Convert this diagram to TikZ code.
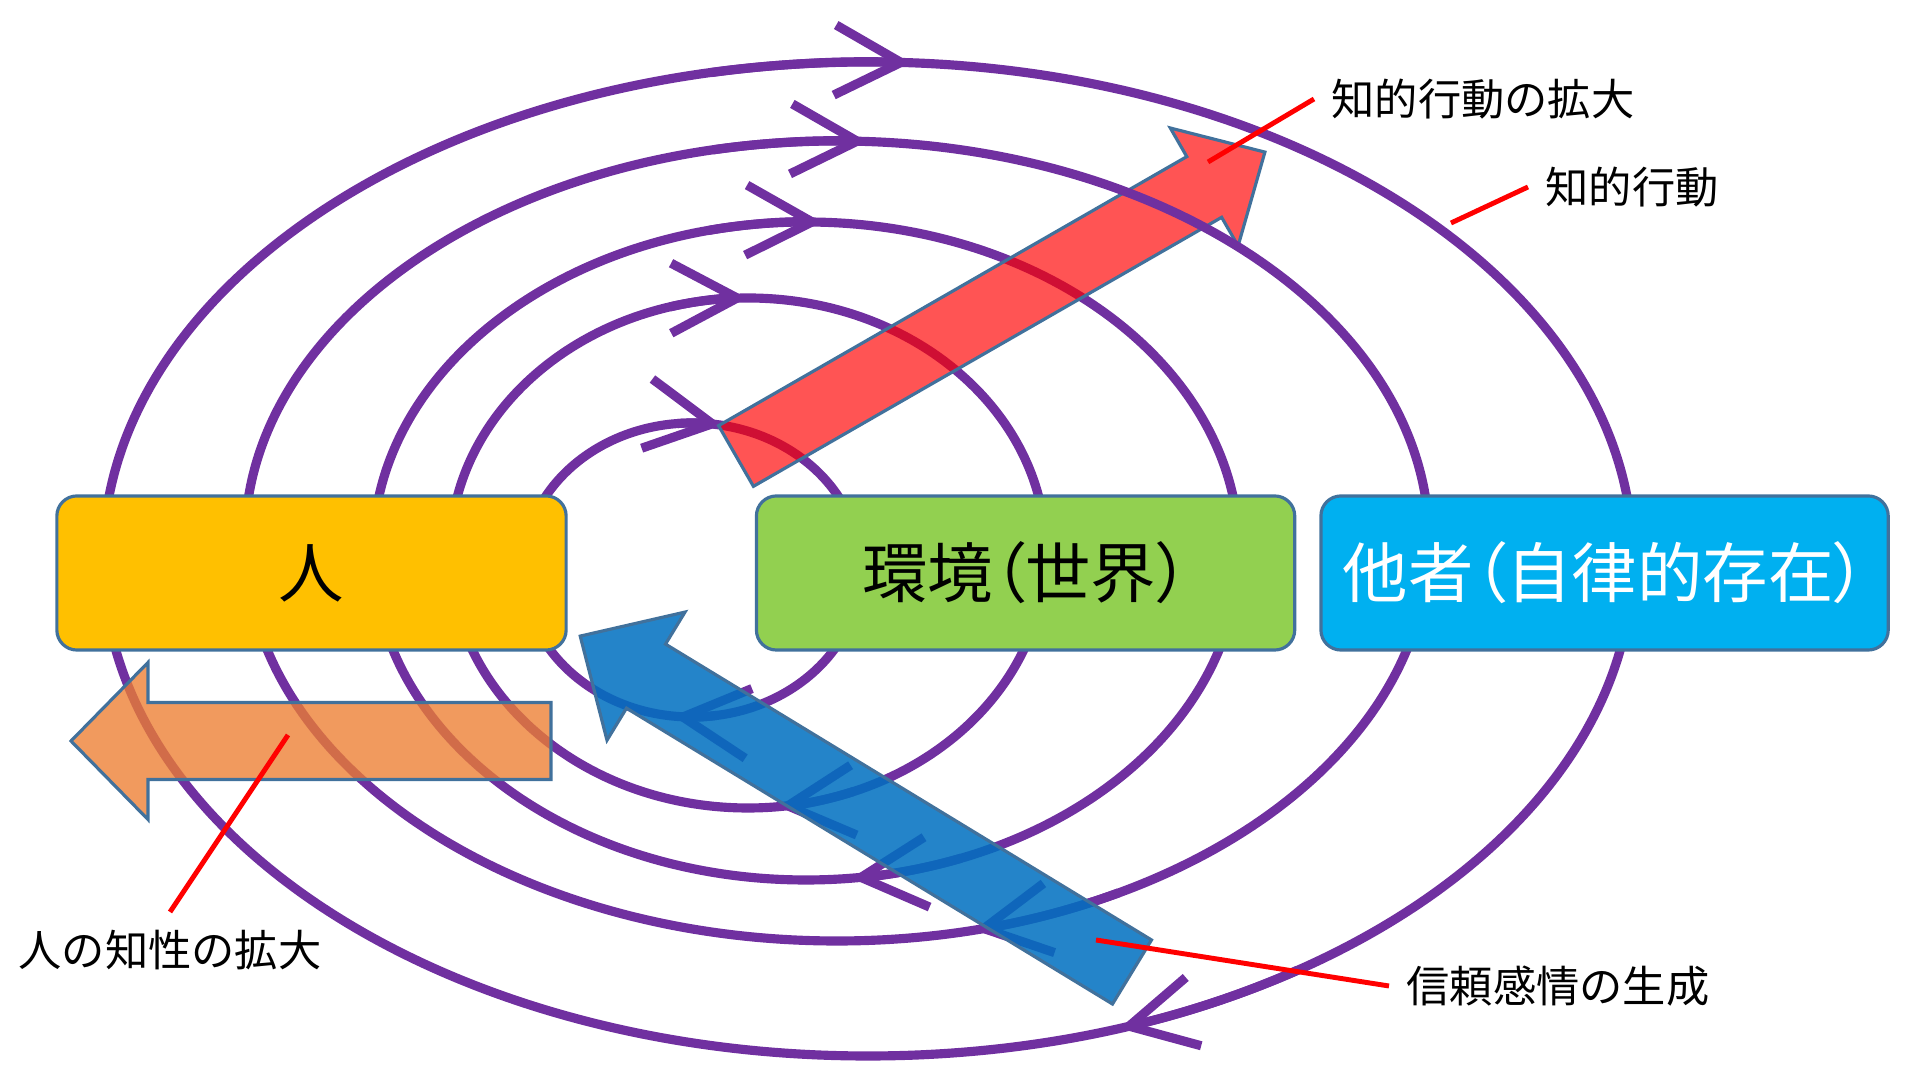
\documentclass[tikz,border=0pt]{standalone}
\usepackage{fontspec}
\usepackage{xcolor}
\usepackage{tikz}
\usetikzlibrary{arrows.meta,positioning,calc}
\newfontfamily\jpfont{Noto Sans CJK JP}
\newfontfamily\jpboxfont[RawFeature=+palt]{Noto Sans CJK JP}
\definecolor{ringpurple}{HTML}{7030A0}
\definecolor{hitoyellow}{HTML}{FFC000}
\definecolor{kankyogreen}{HTML}{92D050}
\definecolor{tashacyan}{HTML}{00B0F0}
\definecolor{edgeblue}{HTML}{41719C}
\definecolor{calloutred}{HTML}{FF0000}
\definecolor{trustblue}{HTML}{0070C0}
\definecolor{mindorange}{HTML}{ED7D31}
\tikzset{
  ring/.style={draw=ringpurple,line width=2.6pt},
  ringarrow/.style={ring,-{Straight Barb[sharp,length=6.6mm,width=7mm]}},
  mainbox/.style={draw=edgeblue,line width=0.9pt,rounded corners=2mm,
    minimum height=1.54cm,font=\jpboxfont\fontsize{18.6}{22}\selectfont},
  bigarrow/.style={draw=edgeblue,line width=0.9pt},
  callout/.style={draw=calloutred,line width=1.4pt},
  calloutlabel/.style={inner sep=1.7mm,font=\jpfont\fontsize{12.3}{14}\selectfont}
}
% #1 fill, #2 tail, #3 angle, #4 length, #5 shaft half, #6 head half, #7 head length
\newcommand{\blockarrow}[7]{%
  \begin{scope}[shift={#2},rotate=#3]
    \filldraw[bigarrow,#1] (0,-#5) -- ({#4-#7},-#5) -- ({#4-#7},-#6) -- (#4,0)
      -- ({#4-#7},#6) -- ({#4-#7},#5) -- (0,#5) -- cycle;
  \end{scope}}

\begin{document}
\begin{tikzpicture}[x=0.01cm,y=-0.01cm]
\useasboundingbox (0,0) rectangle (1920,1080);
% ring centres
\coordinate (o1) at (692,570);
\coordinate (o2) at (748,553);
\coordinate (o3) at (806,551);
\coordinate (o4) at (837,541);
\coordinate (o5) at (868,559);
% inner rings, under the red arrow
\draw[ring] (o1) ellipse [x radius=169,y radius=147];
\draw[ringarrow] (o1) ++(265.2:169 and 147) arc[start angle=265.2,end angle=280.2,x radius=169,y radius=147];
\draw[ringarrow] (o1) ++(81.4:169 and 147) arc[start angle=81.4,end angle=96.4,x radius=169,y radius=147];
\draw[ring] (o2) ellipse [x radius=298,y radius=255];
\draw[ringarrow] (o2) ++(254.8:298 and 255) arc[start angle=254.8,end angle=269.8,x radius=298,y radius=255];
\draw[ringarrow] (o2) ++(69.2:298 and 255) arc[start angle=69.2,end angle=84.2,x radius=298,y radius=255];
\draw[ring] (o3) ellipse [x radius=433,y radius=329];
\draw[ringarrow] (o3) ++(257.1:433 and 329) arc[start angle=257.1,end angle=272.1,x radius=433,y radius=329];
\draw[ringarrow] (o3) ++(69:433 and 329) arc[start angle=69,end angle=84,x radius=433,y radius=329];
% red arrow
\blockarrow{fill=red,fill opacity=0.67}{(736,456)}{29.88}{610}{35}{68}{70}
% outer rings, over the red arrow
\draw[ring] (o4) ellipse [x radius=592,y radius=400];
\draw[ringarrow] (o4) ++(257.9:592 and 400) arc[start angle=257.9,end angle=272.9,x radius=592,y radius=400];
\draw[ringarrow] (o4) ++(61.6:592 and 400) arc[start angle=61.6,end angle=76.6,x radius=592,y radius=400];
\draw[ring] (o5) ellipse [x radius=765,y radius=497];
\draw[ringarrow] (o5) ++(258.2:765 and 497) arc[start angle=258.2,end angle=273.2,x radius=765,y radius=497];
\draw[ringarrow] (o5) ++(55.8:765 and 497) arc[start angle=55.8,end angle=70.8,x radius=765,y radius=497];
% boxes
\node[mainbox,fill=hitoyellow,minimum width=5.09cm] (hito) at (311.5,573) {人};
\node[mainbox,fill=kankyogreen,minimum width=5.38cm,right=1.87cm of hito] (kankyo) {環境（世界）};
\node[mainbox,fill=tashacyan,text=white,minimum width=5.67cm,right=0.23cm of kankyo] (tasha) {他者（自律的存在）};
% blue and orange arrows
\blockarrow{fill=trustblue,fill opacity=0.86}{(1132,972)}{148.67}{646}{37.5}{75}{77}
\blockarrow{fill=mindorange,fill opacity=0.78}{(551,741)}{180}{480}{38.5}{78.5}{77}
% callouts
\node[calloutlabel,anchor=west] (lblexpand) at (1314,99) {知的行動の拡大};
\node[calloutlabel,anchor=west] (lblaction) at (1528,187) {知的行動};
\node[calloutlabel,anchor=north] (lblmind) at (170,912) {人の知性の拡大};
\node[calloutlabel,anchor=west] (lbltrust) at (1389,986) {信頼感情の生成};
\coordinate (pexpand) at (1208,162);
\coordinate (paction) at (1451,223);
\coordinate (pmind) at (288,735);
\coordinate (ptrust) at (1096,940);
\draw[callout] (pexpand) -- (lblexpand.west);
\draw[callout] (paction) -- (lblaction.west);
\draw[callout] (pmind) -- (lblmind.north);
\draw[callout] (ptrust) -- (lbltrust.west);
\end{tikzpicture}
\end{document}
